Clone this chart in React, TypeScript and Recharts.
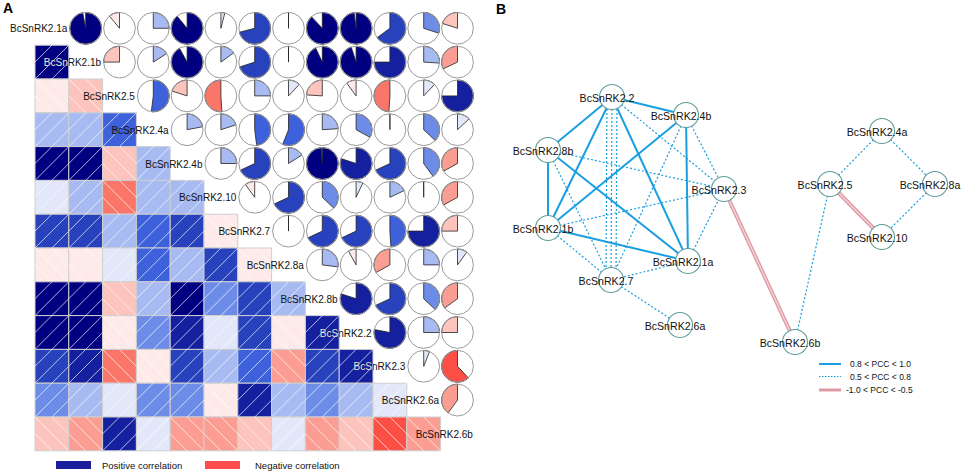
import React from 'react';
import { ScatterChart, Scatter, XAxis, YAxis } from 'recharts';

const FONT = '"Liberation Sans", Arial, sans-serif';

// gene order used on the diagonal of the correlation matrix
const genes = [
  'BcSnRK2.1a', 'BcSnRK2.1b', 'BcSnRK2.5', 'BcSnRK2.4a', 'BcSnRK2.4b', 'BcSnRK2.10', 'BcSnRK2.7',
  'BcSnRK2.8a', 'BcSnRK2.8b', 'BcSnRK2.2', 'BcSnRK2.3', 'BcSnRK2.6a', 'BcSnRK2.6b',
];

// upper triangle, one row per gene (values right of the diagonal)
const row21a = [0.97, -0.11, 0.25, 0.89, 0.04, 0.71, -0.02, 0.88, 0.98, 0.65, 0.3, -0.2];
const row21b = [-0.25, 0.16, 0.92, 0.15, 0.7, -0.01, 0.93, 0.95, 0.75, 0.26, -0.32];
const row25 = [0.52, -0.2, -0.51, 0.25, 0.12, -0.24, -0.1, -0.49, 0.12, 0.75];
const row24a = [0.22, 0.2, 0.48, 0.56, 0.24, 0.33, -0.01, 0.37, 0.13];
const row24b = [0.25, 0.68, 0.16, 0.99, 0.8, 0.68, 0.4, -0.33];
const row210 = [-0.1, 0.68, 0.37, 0.07, 0.18, -0.01, -0.33];
const row27 = [-0.01, 0.68, 0.68, 0.49, 0.75, -0.25];
const row28a = [0.27, -0.08, -0.33, 0.25, 0.1];
const row28b = [0.8, 0.68, 0.37, -0.35];
const row22 = [0.78, 0.25, -0.25];
const row23 = [0.06, -0.62];
const row26a = [-0.4];

// network (panel B)
const nodeNames = ['2.2', '2.4b', '2.8b', '2.3', '2.1b', '2.1a', '2.7', '2.6a', '2.6b', '2.5', '2.4a', '2.8a', '2.10'];
const nodeX = [612, 686, 548, 724, 548, 688, 611, 680, 795, 830, 882, 935, 882];
const nodeY = [97, 115, 150, 189, 228, 261, 280, 325, 342, 184, 131, 184, 237];

const strongEdges = [
  ['2.2', '2.4b'], ['2.2', '2.8b'], ['2.2', '2.1b'], ['2.2', '2.1a'], ['2.8b', '2.1b'],
  ['2.8b', '2.1a'], ['2.4b', '2.1b'], ['2.4b', '2.1a'], ['2.1b', '2.1a'],
];
const mediumEdges = [
  ['2.2', '2.3'], ['2.4b', '2.3'], ['2.8b', '2.3'], ['2.1b', '2.3'], ['2.1a', '2.3'],
  ['2.4b', '2.7'], ['2.8b', '2.7'], ['2.1b', '2.7'], ['2.1a', '2.7'], ['2.7', '2.6a'],
  ['2.5', '2.6b'], ['2.5', '2.4a'], ['2.4a', '2.8a'], ['2.8a', '2.10'],
];
// 2.2 - 2.7 is drawn as three parallel dotted lines
const parallelShift = [-5, 0, 5];
const negativeEdges = [['2.3', '2.6b'], ['2.5', '2.10']];

const N = genes.length;
const CELL = 33.8;
const PLOT = CELL * N;

const upper = [row21a, row21b, row25, row24a, row24b, row210, row27, row28a, row28b, row22, row23, row26a];

function corr(i: number, j: number): number {
  if (i === j) return 1;
  return i < j ? upper[i][j - i - 1] : upper[j][i - j - 1];
}

// corrgram palette: red, salmon, white, royalblue, navy in 14 bins
const ramp = [[255, 0, 0], [250, 128, 114], [255, 255, 255], [65, 105, 225], [0, 0, 128]];
function rampColor(t: number): string {
  const s = t * 4;
  const k = Math.min(3, Math.floor(s));
  const f = s - k;
  const c = ramp[k].map((v, i) => Math.round(v + (ramp[k + 1][i] - v) * f));
  return `rgb(${c[0]},${c[1]},${c[2]})`;
}
function corrColor(r: number): string {
  const bin = Math.min(13, Math.max(0, Math.ceil((r + 1) * 7) - 1));
  return rampColor(bin / 13);
}

const shadeData: any[] = [];
const pieData: any[] = [];
const labelData: any[] = [];
for (let i = 0; i < N; i++) {
  for (let j = 0; j < N; j++) {
    const p = { x: j + 0.5, y: i + 0.5, row: i, col: j, r: corr(i, j) };
    if (i > j) shadeData.push(p);
    else if (i < j) pieData.push(p);
    else labelData.push({ ...p, name: genes[i], left: i > 0 ? corr(i, i - 1) : 0 });
  }
}

function ShadeCell(props: any) {
  const { cx, cy, payload } = props;
  const x0 = cx - CELL / 2;
  const y0 = cy - CELL / 2;
  const r = payload.r;
  const lines = [-0.5, 0, 0.5].map((k) => {
    // unit-square coordinates, v measured upwards
    if (r > 0) {
      const u0 = Math.max(0, -k), u1 = Math.min(1, 1 - k);
      return [u0, u0 + k, u1, u1 + k];
    }
    const u0 = Math.max(0, k), u1 = Math.min(1, 1 + k);
    return [u0, 1 - u0 + k, u1, 1 - u1 + k];
  });
  return (
    <g>
      <rect x={x0} y={y0} width={CELL} height={CELL} fill={corrColor(r)} stroke="#cfcfcf" strokeWidth={1} />
      {lines.map((l, n) => (
        <line
          key={n}
          x1={x0 + l[0] * CELL}
          y1={y0 + (1 - l[1]) * CELL}
          x2={x0 + l[2] * CELL}
          y2={y0 + (1 - l[3]) * CELL}
          stroke="#ffffff"
          strokeOpacity={0.85}
          strokeWidth={0.8}
        />
      ))}
    </g>
  );
}

function PieCell(props: any) {
  const { cx, cy, payload } = props;
  const r = payload.r;
  const R = CELL * 0.47;
  const segs = Math.round(60 * Math.abs(r));
  let poly = null;
  if (segs > 0) {
    const pts: number[][] = [];
    for (let s = 0; s < segs; s++) {
      const a = segs === 1 ? Math.PI / 2 : Math.PI / 2 - (2 * Math.PI * r * s) / (segs - 1);
      pts.push([cx + R * Math.cos(a), cy - R * Math.sin(a)]);
    }
    pts.push([cx, cy], pts[0]);
    poly = (
      <polygon
        points={pts.map((p) => p.join(',')).join(' ')}
        fill={corrColor(r)}
        stroke="#222"
        strokeWidth={0.8}
      />
    );
  }
  return (
    <g>
      <circle cx={cx} cy={cy} r={R} fill="#fff" />
      {poly}
      <circle cx={cx} cy={cy} r={R} fill="none" stroke="#9a9a9a" strokeWidth={1} />
    </g>
  );
}

function LabelCell(props: any) {
  const { cx, cy, payload } = props;
  const x = cx + CELL / 2 - 1.5;
  const y = cy + 4;
  const id = `lbl-clip-${payload.row}`;
  const dark = payload.left > 0.7;
  return (
    <g>
      <text x={x} y={y} textAnchor="end" fontSize={10} fontFamily={FONT} fill="#111">
        {payload.name}
      </text>
      {dark && (
        <>
          <defs>
            <clipPath id={id}>
              <rect x={cx - CELL * 1.5} y={cy - CELL / 2} width={CELL} height={CELL} />
            </clipPath>
          </defs>
          <text x={x} y={y} textAnchor="end" fontSize={10} fontFamily={FONT} fill="#e8e8f0" clipPath={`url(#${id})`}>
            {payload.name}
          </text>
        </>
      )}
    </g>
  );
}

function CorrMatrix() {
  const W = 480;
  const H = 474;
  return (
    <ScatterChart
      width={W}
      height={H}
      margin={{ top: 11.4, left: 35, right: W - 35 - PLOT, bottom: H - 11.4 - PLOT }}
    >
      <XAxis type="number" dataKey="x" domain={[0, N]} hide />
      <YAxis type="number" dataKey="y" domain={[0, N]} reversed hide />
      <Scatter data={shadeData} shape={ShadeCell} isAnimationActive={false} />
      <Scatter data={pieData} shape={PieCell} isAnimationActive={false} />
      <Scatter data={labelData} shape={LabelCell} isAnimationActive={false} />
    </ScatterChart>
  );
}

const nodePos = (name: string) => {
  const k = nodeNames.indexOf(name);
  return { x: nodeX[k], y: nodeY[k] };
};
const nodeData = nodeNames.map((name, k) => ({ x: nodeX[k], y: nodeY[k], name }));
const EDGE_BLUE = '#1a9fe0';

function NodeShape(props: any) {
  const { cx, cy, payload } = props;
  return (
    <g>
      <circle cx={cx} cy={cy} r={12.5} fill="#fff" stroke="#5e9c99" strokeWidth={1.1} />
      <text x={cx - 5} y={cy + 5} textAnchor="middle" fontSize={10.6} fontFamily={FONT} fill="#111">
        {'BcSnRK' + payload.name}
      </text>
    </g>
  );
}

const noMark = () => <g />;

function Network() {
  const left = 480;
  const W = 484;
  const H = 474;
  const edges: React.ReactNode[] = [];
  strongEdges.forEach(([a, b], k) => {
    edges.push(
      <Scatter
        key={`s${k}`}
        data={[nodePos(a), nodePos(b)]}
        fill={EDGE_BLUE}
        line={{ stroke: EDGE_BLUE, strokeWidth: 2 }}
        shape={noMark}
        isAnimationActive={false}
      />,
    );
  });
  mediumEdges.forEach(([a, b], k) => {
    edges.push(
      <Scatter
        key={`m${k}`}
        data={[nodePos(a), nodePos(b)]}
        fill={EDGE_BLUE}
        line={{ stroke: EDGE_BLUE, strokeWidth: 1.2, strokeDasharray: '2 2' }}
        shape={noMark}
        isAnimationActive={false}
      />,
    );
  });
  parallelShift.forEach((d, k) => {
    const a = nodePos('2.2');
    const b = nodePos('2.7');
    edges.push(
      <Scatter
        key={`p${k}`}
        data={[{ x: a.x + d, y: a.y }, { x: b.x + d, y: b.y }]}
        fill={EDGE_BLUE}
        line={{ stroke: EDGE_BLUE, strokeWidth: 1.2, strokeDasharray: '2 2' }}
        shape={noMark}
        isAnimationActive={false}
      />,
    );
  });
  negativeEdges.forEach(([a, b], k) => {
    edges.push(
      <Scatter
        key={`n${k}`}
        data={[nodePos(a), nodePos(b)]}
        fill="#dd9aa3"
        line={{ stroke: '#dd9aa3', strokeWidth: 4 }}
        shape={noMark}
        isAnimationActive={false}
      />,
      <Scatter
        key={`ni${k}`}
        data={[nodePos(a), nodePos(b)]}
        fill="#f6d2d6"
        line={{ stroke: '#f6d2d6', strokeWidth: 1.4 }}
        shape={noMark}
        isAnimationActive={false}
      />,
    );
  });
  return (
    <ScatterChart width={W} height={H} margin={{ top: 0, left: 0, right: 0, bottom: 0 }}>
      <XAxis type="number" dataKey="x" domain={[left, left + W]} hide />
      <YAxis type="number" dataKey="y" domain={[0, H]} reversed hide />
      {edges}
      <Scatter data={nodeData} shape={NodeShape} isAnimationActive={false} />
    </ScatterChart>
  );
}

export default function App() {
  return (
    <div style={{ position: 'absolute', left: 0, top: 0, width: 964, height: 474, background: '#fff' }}>
      <div style={{ position: 'absolute', left: 0, top: 0 }}>
        <CorrMatrix />
      </div>
      <div style={{ position: 'absolute', left: 480, top: 0 }}>
        <Network />
      </div>
      <svg
        width={964}
        height={474}
        style={{ position: 'absolute', left: 0, top: 0, pointerEvents: 'none' }}
        fontFamily={FONT}
      >
        <text x={3} y={13} fontSize={14} fontWeight="bold" fill="#000">A</text>
        <text x={496} y={14} fontSize={14} fontWeight="bold" fill="#000">B</text>

        <rect x={56} y={461} width={35} height={8} fill="#1a1f9c" />
        <text x={102} y={469} fontSize={9.5} fill="#111">Positive correlation</text>
        <rect x={205} y={461} width={35} height={8} fill="#ff4d4d" />
        <text x={255} y={469} fontSize={9.5} fill="#111">Negative correlation</text>

        <line x1={819} x2={841} y1={364} y2={364} stroke={EDGE_BLUE} strokeWidth={2} />
        <text x={850} y={367} fontSize={8.5} fill="#111">0.8 &lt; PCC &lt; 1.0</text>
        <line x1={819} x2={841} y1={376.5} y2={376.5} stroke={EDGE_BLUE} strokeWidth={1.2} strokeDasharray="1.5 1.5" />
        <text x={850} y={379.5} fontSize={8.5} fill="#111">0.5 &lt; PCC &lt; 0.8</text>
        <line x1={819} x2={841} y1={390} y2={390} stroke="#dd9aa3" strokeWidth={3} />
        <text x={846} y={393} fontSize={8.5} fill="#111">-1.0 &lt; PCC &lt; -0.5</text>
      </svg>
    </div>
  );
}
